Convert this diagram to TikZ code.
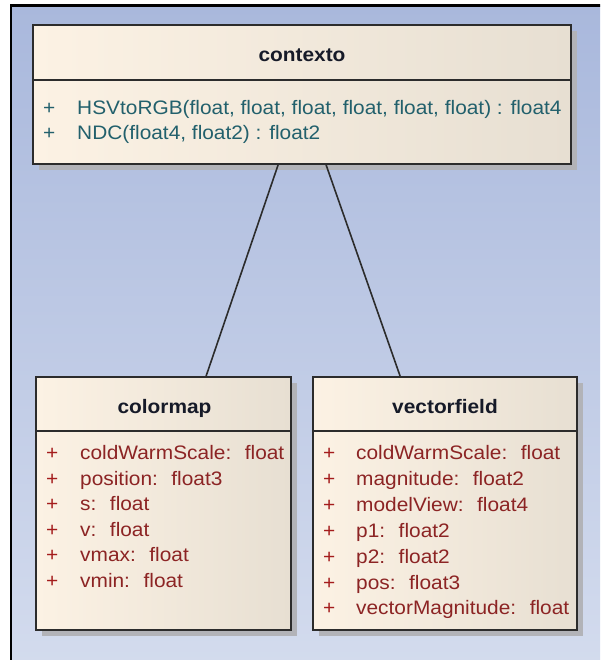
\documentclass[tikz,border=0pt]{standalone}
\usepackage{fontspec}
\setmainfont{Liberation Sans}
\newfontfamily\umlfont[FakeStretch=1.07]{Liberation Sans}
\usetikzlibrary{calc,shadows}

\definecolor{bgtop}{HTML}{A9B8DC}
\definecolor{bgbot}{HTML}{D4DCEE}
\definecolor{boxleft}{HTML}{FCF2E4}
\definecolor{boxright}{HTML}{E7DFD2}
\definecolor{boxline}{HTML}{2C2C2C}
\definecolor{shadowcol}{HTML}{B2B3B8}
\definecolor{titlecol}{HTML}{161A28}
\definecolor{opcol}{HTML}{22606C}
\definecolor{attrcol}{HTML}{8C2424}
\definecolor{attrplus}{HTML}{A41C1C}

\tikzset{
  classbox/.style={draw=boxline, line width=1.8pt, left color=boxleft,
    right color=boxright, inner sep=0pt,
    drop shadow={shadow xshift=6pt, shadow yshift=-6pt, fill=shadowcol, opacity=1}},
  classrule/.style={draw=boxline, line width=1.8pt},
  classtitle/.style={font=\umlfont\fontsize{19.5}{24}\selectfont\bfseries, text=titlecol,
    inner sep=0pt, anchor=base},
  member/.style={font=\umlfont\fontsize{19.5}{24}\selectfont, inner sep=0pt, anchor=base west},
  opmember/.style={member, text=opcol},
  attrmember/.style={member, text=attrcol},
  attrmark/.style={member, text=attrplus},
  assoc/.style={draw=boxline, line width=1.6pt},
}

\begin{document}
\begin{tikzpicture}[x=1pt, y=-1pt]
  \clip (0,0) rectangle (600,660);

  % diagram canvas with its frame
  \shade[top color=bgtop, bottom color=bgbot] (11,5.5) rectangle (620,680);
  \draw[line width=2.2pt, black] (11,5.5) rectangle (620,680);

  % class boxes
  \node[classbox, minimum width=538pt, minimum height=139pt] (contexto) at (302,94.5) {};
  \node[classbox, minimum width=255pt, minimum height=253pt] (colormap) at (163.5,503.5) {};
  \node[classbox, minimum width=264pt, minimum height=253pt] (vectorfield) at (445,503.5) {};

  % compartment rules
  \draw[classrule] (contexto.west |- 0,80) -- (contexto.east |- 0,80);
  \draw[classrule] (colormap.west |- 0,431) -- (colormap.east |- 0,431);
  \draw[classrule] (vectorfield.west |- 0,431) -- (vectorfield.east |- 0,431);

  % class names
  \node[classtitle] (contexto-name) at (302,62) {contexto};
  \node[classtitle] (colormap-name) at (164.5,413) {colormap};
  \node[classtitle] (vectorfield-name) at (445,413) {vectorfield};

  % operations of contexto
  \foreach \txt [count=\i] in {{HSVtoRGB(float, float, float, float, float, float) : float4},
                              {NDC(float4, float2) : float2}} {
    \node[opmember] (ctx-plus-\i) at (43,108+25*\i-25+6.5) {+};
    \node[opmember] (ctx-op-\i) at (77,108+25*\i-25+6.5) {\txt};
  }

  % attributes of colormap
  \foreach \txt [count=\i] in {{coldWarmScale:~ float}, {position:~ float3}, {s:~ float},
                              {v:~ float}, {vmax:~ float}, {vmin:~ float}} {
    \node[attrmark] (cm-plus-\i) at (46,453+25.6*\i-25.6+6.5) {+};
    \node[attrmember] (cm-attr-\i) at (80,453+25.6*\i-25.6+6.5) {\txt};
  }

  % attributes of vectorfield
  \foreach \txt [count=\i] in {{coldWarmScale:~ float}, {magnitude:~ float2}, {modelView:~ float4},
                              {p1:~ float2}, {p2:~ float2}, {pos:~ float3},
                              {vectorMagnitude:~ float}} {
    \node[attrmark] (vf-plus-\i) at (323,453+25.9*\i-25.9+6.5) {+};
    \node[attrmember] (vf-attr-\i) at (356,453+25.9*\i-25.9+6.5) {\txt};
  }

  % associations
  \draw[assoc] ([xshift=246pt]contexto.south west) -- ([xshift=171pt]colormap.north west);
  \draw[assoc] ([xshift=294pt]contexto.south west) -- ([xshift=88pt]vectorfield.north west);
\end{tikzpicture}
\end{document}
